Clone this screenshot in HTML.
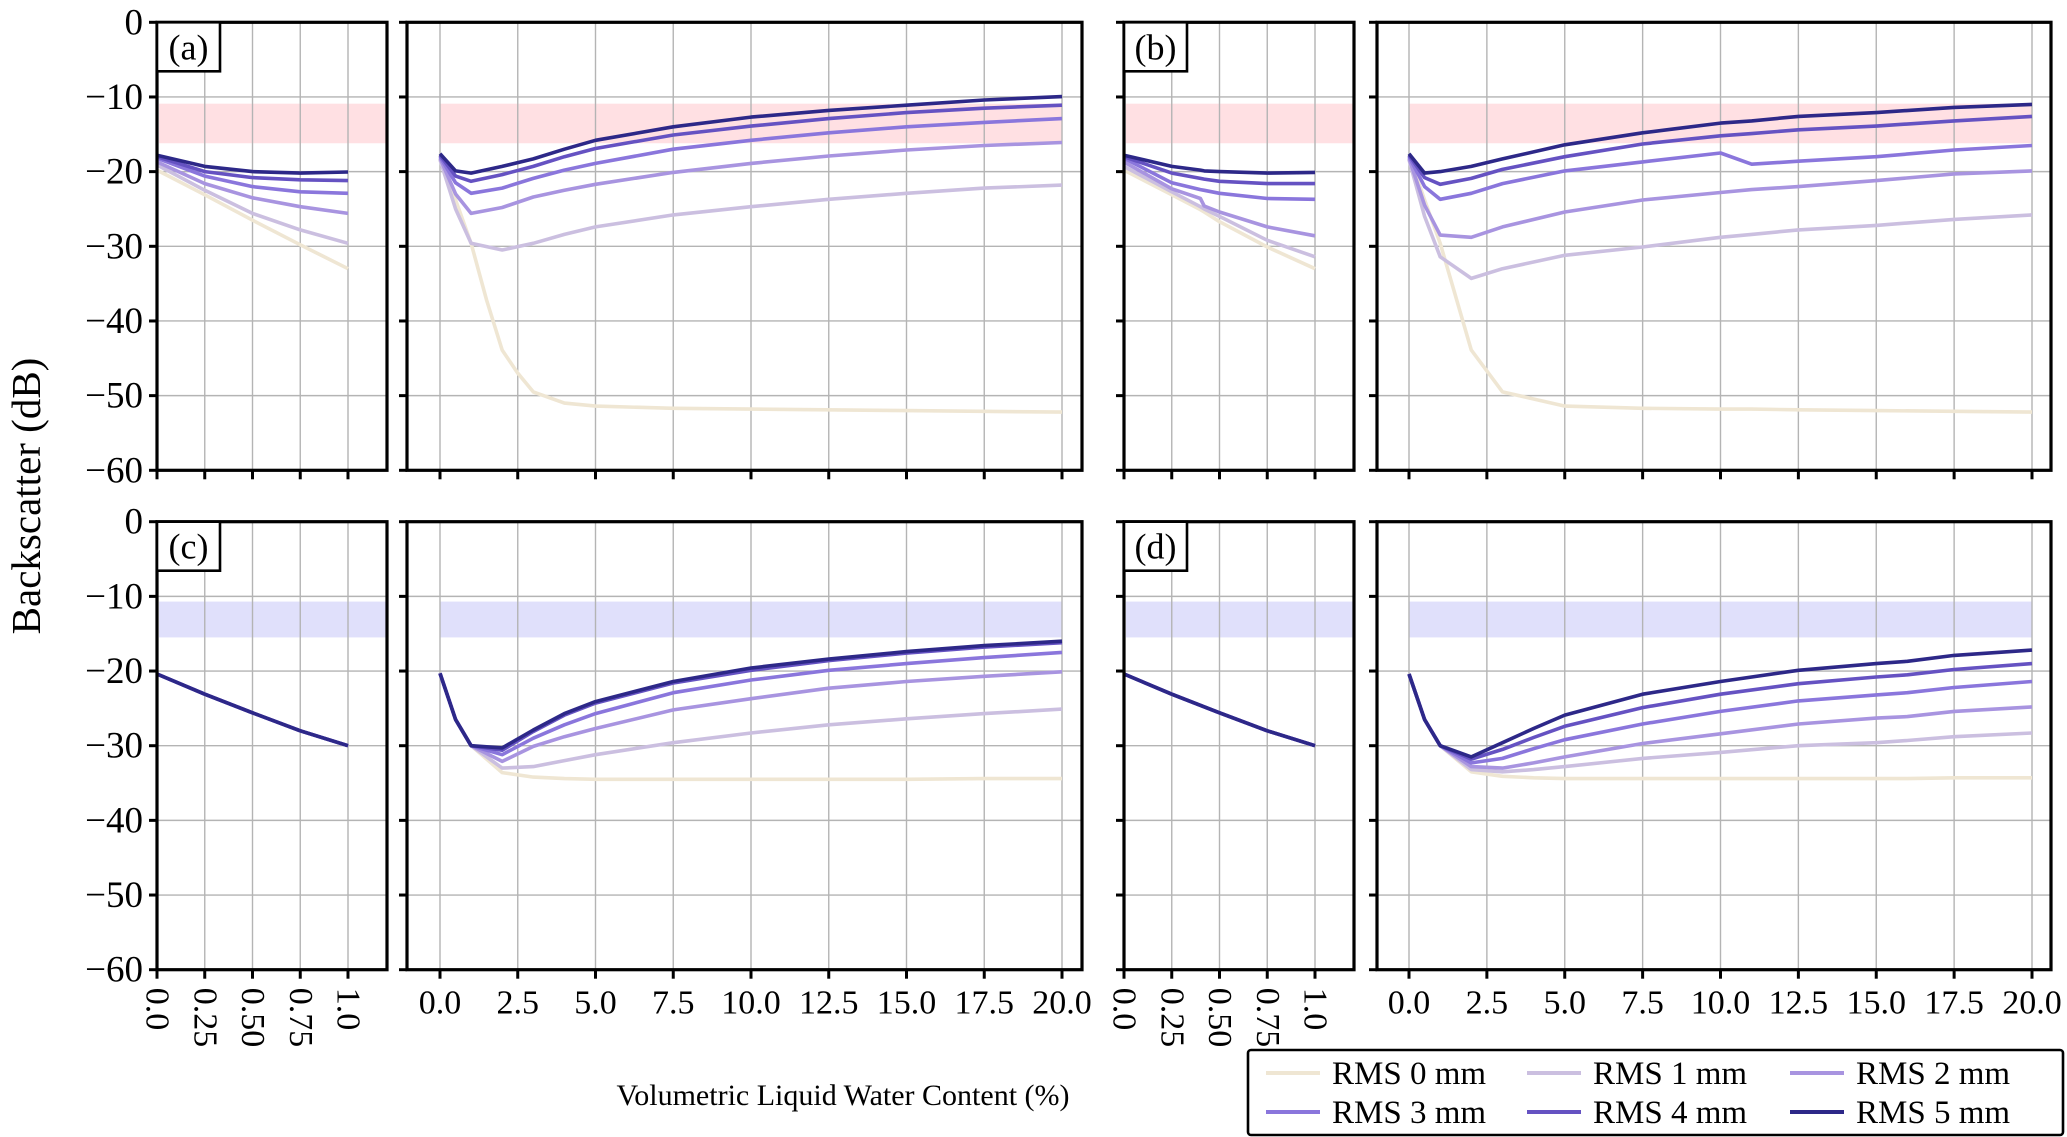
<!DOCTYPE html>
<html><head><meta charset="utf-8">
<style>
html,body{margin:0;padding:0;background:#fff;}
svg{display:block;font-family:"Liberation Serif","DejaVu Serif",serif;}
</style></head>
<body>
<svg id="chart" width="2067" height="1137" viewBox="0 0 2067 1137" xmlns="http://www.w3.org/2000/svg"></svg>
<script>
// ---------- DATA ----------
const seriesNames = ["RMS 0 mm","RMS 1 mm","RMS 2 mm","RMS 3 mm","RMS 4 mm","RMS 5 mm"];
const yTicks = [0,-10,-20,-30,-40,-50,-60];
const narrowTicks = [0,0.25,0.5,0.75,1.0];
const narrowTickLabels = ["0.0","0.25","0.50","0.75","1.0"];
const wideTicks = [0,2.5,5,7.5,10,12.5,15,17.5,20];
const wideTickLabels = ["0.0","2.5","5.0","7.5","10.0","12.5","15.0","17.5","20.0"];
const panelLetters = ["(a)","(b)","(c)","(d)"];
const bandTop = [-16.2,-10.9];
const bandBottom = [-15.5,-10.7];

// panel (a) narrow
const aNX = [0,0.25,0.5,0.75,1.0];
const aN0 = [-19.8,-23.1,-26.5,-29.8,-33.0];
const aN1 = [-19.1,-22.5,-25.6,-27.8,-29.6];
const aN2 = [-18.7,-21.6,-23.5,-24.7,-25.6];
const aN3 = [-18.2,-20.6,-22.0,-22.7,-22.9];
const aN4 = [-18.0,-20.0,-20.8,-21.1,-21.2];
const aN5 = [-17.8,-19.3,-20.0,-20.2,-20.05];
// panel (a) wide
const aWX = [0,0.5,1,2,3,4,5,7.5,10,12.5,15,17.5,20];
const aW0X = [0,0.5,1,1.5,2,2.5,3,4,5,7.5,10,15,20];
const aW0 = [-17.8,-23.8,-29.6,-37.2,-43.9,-47.0,-49.5,-51.0,-51.4,-51.7,-51.8,-52.0,-52.2];
const aW1 = [-18.4,-25.0,-29.6,-30.5,-29.6,-28.4,-27.4,-25.8,-24.7,-23.7,-22.9,-22.2,-21.8];
const aW2 = [-18.2,-23.0,-25.6,-24.8,-23.4,-22.5,-21.7,-20.1,-18.9,-17.9,-17.1,-16.5,-16.1];
const aW3 = [-18.0,-21.5,-22.9,-22.2,-20.9,-19.8,-18.9,-17.0,-15.8,-14.8,-14.0,-13.4,-12.9];
const aW4 = [-17.8,-20.6,-21.3,-20.4,-19.3,-18.0,-16.9,-15.1,-13.9,-12.9,-12.1,-11.5,-11.1];
const aW5 = [-17.6,-19.9,-20.2,-19.3,-18.3,-17.0,-15.8,-14.0,-12.7,-11.8,-11.1,-10.4,-9.95];
// panel (b) narrow
const bNX = [0,0.25,0.4,0.42,0.5,0.75,1.0];
const bN0 = [-19.8,-23.1,-25.1,-25.4,-26.7,-30.1,-33.0];
const bN1 = [-19.3,-22.7,-24.7,-25.0,-26.0,-29.2,-31.4];
const bN2 = [-18.7,-22.3,-23.6,-24.6,-25.4,-27.4,-28.6];
const bN3 = [-18.2,-21.5,-22.4,-22.5,-22.9,-23.6,-23.7];
const bN4 = [-18.0,-20.2,-20.9,-21.0,-21.3,-21.6,-21.6];
const bN5 = [-17.8,-19.3,-19.8,-19.9,-20.0,-20.2,-20.1];
// panel (b) wide
const bWX = [0,0.5,1,2,3,5,7.5,10,11,12.5,15,17.5,20];
const bW0 = [-17.8,-23.8,-29.6,-43.9,-49.5,-51.4,-51.7,-51.8,-51.8,-51.9,-52.0,-52.1,-52.2];
const bW1 = [-18.4,-26.0,-31.4,-34.3,-33.0,-31.2,-30.1,-28.8,-28.4,-27.8,-27.2,-26.4,-25.8];
const bW2 = [-18.2,-24.5,-28.5,-28.8,-27.4,-25.4,-23.8,-22.8,-22.4,-22.0,-21.2,-20.3,-19.9];
const bW3 = [-18.0,-22.0,-23.7,-22.9,-21.6,-19.9,-18.7,-17.5,-19.0,-18.6,-18.0,-17.1,-16.5];
const bW4 = [-17.8,-20.8,-21.7,-20.9,-19.7,-18.0,-16.3,-15.2,-14.9,-14.4,-13.9,-13.2,-12.6];
const bW5 = [-17.6,-20.2,-20.0,-19.3,-18.3,-16.4,-14.8,-13.5,-13.2,-12.6,-12.1,-11.4,-11.0];
// panel (c) narrow (all series coincide)
const cNX = [0,0.25,0.5,0.75,1.0];
const cN = [-20.4,-23.1,-25.6,-28.0,-30.0];
// panel (c) wide
const cWX = [0,0.5,1,2,3,4,5,7.5,10,12.5,15,17.5,20];
const cW0 = [-20.3,-26.5,-30.0,-33.6,-34.2,-34.4,-34.5,-34.5,-34.5,-34.5,-34.5,-34.4,-34.4];
const cW1 = [-20.3,-26.5,-30.0,-33.0,-32.8,-32.0,-31.2,-29.6,-28.3,-27.2,-26.4,-25.7,-25.1];
const cW2 = [-20.3,-26.5,-30.0,-32.1,-30.1,-28.8,-27.7,-25.2,-23.7,-22.3,-21.4,-20.7,-20.1];
const cW3 = [-20.3,-26.5,-30.0,-31.2,-29.0,-27.2,-25.7,-22.9,-21.2,-19.9,-19.0,-18.2,-17.5];
const cW4 = [-20.3,-26.5,-30.0,-30.6,-28.1,-25.9,-24.3,-21.6,-19.9,-18.6,-17.6,-16.8,-16.2];
const cW5 = [-20.3,-26.5,-30.0,-30.3,-27.9,-25.7,-24.1,-21.4,-19.6,-18.4,-17.4,-16.6,-16.0];
// panel (d) narrow
const dNX = [0,0.25,0.5,0.75,1.0];
const dN = [-20.4,-23.1,-25.6,-28.0,-30.0];
// panel (d) wide
const dWX = [0,0.5,1,2,3,4,5,7.5,10,12.5,15,16,17.5,20];
const dW0 = [-20.4,-26.5,-30.0,-33.5,-34.1,-34.3,-34.4,-34.4,-34.4,-34.4,-34.4,-34.4,-34.3,-34.3];
const dW1 = [-20.4,-26.5,-30.0,-33.2,-33.5,-33.2,-32.8,-31.7,-30.9,-30.0,-29.6,-29.3,-28.8,-28.3];
const dW2 = [-20.4,-26.5,-30.0,-32.8,-33.0,-32.3,-31.5,-29.7,-28.4,-27.1,-26.3,-26.1,-25.4,-24.8];
const dW3 = [-20.4,-26.5,-30.0,-32.3,-31.7,-30.4,-29.2,-27.1,-25.4,-24.0,-23.2,-22.9,-22.2,-21.4];
const dW4 = [-20.4,-26.5,-30.0,-31.8,-30.5,-28.9,-27.4,-24.9,-23.1,-21.7,-20.8,-20.5,-19.8,-19.0];
const dW5 = [-20.4,-26.5,-30.0,-31.5,-29.6,-27.7,-25.9,-23.1,-21.4,-19.9,-19.0,-18.7,-17.9,-17.2];

// ---------- STYLE / LAYOUT ----------
const colors = ["#efe6d3","#cbbfe0","#a894e0","#8a76dc","#6552c2","#2d2888"];
const rows = [{top:22.3,bot:470.3},{top:521.7,bot:969.7}];
const cols = [
  {left:157,right:387,p0:157,p1:348,v1:1,kind:"n"},
  {left:407,right:1082,p0:440,p1:1062,v1:20,kind:"w"},
  {left:1124,right:1354,p0:1124,p1:1315,v1:1,kind:"n"},
  {left:1377,right:2051,p0:1409,p1:2032,v1:20,kind:"w"}
];
const NS="http://www.w3.org/2000/svg";
const svg=document.getElementById("chart");
function mk(tag,attrs,parent){const e=document.createElementNS(NS,tag);for(const k in attrs)e.setAttribute(k,attrs[k]);(parent||svg).appendChild(e);return e;}

function panelData(r,c){
  const narrowSets=[[aNX,[aN0,aN1,aN2,aN3,aN4,aN5]],[bNX,[bN0,bN1,bN2,bN3,bN4,bN5]],[cNX,[cN,cN,cN,cN,cN,cN]],[dNX,[dN,dN,dN,dN,dN,dN]]];
  const wideSets=[[aWX,[aW0,aW1,aW2,aW3,aW4,aW5]],[bWX,[bW0,bW1,bW2,bW3,bW4,bW5]],[cWX,[cW0,cW1,cW2,cW3,cW4,cW5]],[dWX,[dW0,dW1,dW2,dW3,dW4,dW5]]];
  const idx=r*2+(c>=2?1:0);
  return cols[c].kind==="n"?narrowSets[idx]:wideSets[idx];
}

for(let r=0;r<2;r++){
  const row=rows[r];
  const ys=v=>row.top+(0-v)/60*(row.bot-row.top);
  for(let c=0;c<4;c++){
    const col=cols[c];
    const xs=v=>col.p0+v/col.v1*(col.p1-col.p0);
    const g=mk("g",{});
    
    
    // band
    const band=r===0?bandTop:bandBottom;
    const bx0=col.kind==="n"?col.left+2:xs(0), bx1=col.kind==="n"?col.right-1:xs(20);
    const rect=mk("rect",{x:bx0,y:ys(band[1]),width:bx1-bx0,height:ys(band[0])-ys(band[1]),fill:r===0?"#ffe0e3":"#e0e0fb"},g);
    
    
    // grid
    const ticks=col.kind==="n"?narrowTicks:wideTicks;
    ticks.forEach(t=>{const l=mk("line",{x1:xs(t),x2:xs(t),y1:row.top,y2:row.bot,stroke:"#b4b4b4","stroke-width":1.4},g);
      
      });
    yTicks.forEach(t=>{const l=mk("line",{x1:col.left,x2:col.right,y1:ys(t),y2:ys(t),stroke:"#b4b4b4","stroke-width":1.4},g);
      
      });
    // series
    const [X,S]=panelData(r,c);
    for(let s=0;s<6;s++){
      let xarr=X;
      if(r===0&&c===1&&s===0)xarr=aW0X;
      const pts=S[s].map((v,i)=>xs(xarr[i]).toFixed(1)+","+ys(v).toFixed(1)).join(" ");
      const pl=mk("polyline",{points:pts,fill:"none",stroke:colors[s],"stroke-width":3.6,"stroke-linejoin":"round","stroke-linecap":"butt"},g);
      
      
    }
    // spines
    const fr=mk("rect",{x:col.left,y:row.top,width:col.right-col.left,height:row.bot-row.top,fill:"none",stroke:"#000","stroke-width":3.2},g);
    
    
    // y ticks
    yTicks.forEach(t=>{const l=mk("line",{x1:col.left-8,x2:col.left,y1:ys(t),y2:ys(t),stroke:"#000","stroke-width":3},g);
      
      
      if(c===0){const tx=mk("text",{x:col.left-14,y:ys(t)+12,"text-anchor":"end","font-size":37,fill:"#000"},g);
        tx.textContent=t===0?"0":"\u2212"+Math.abs(t);
        
        }
    });
    // x ticks
    ticks.forEach((t,i)=>{const l=mk("line",{x1:xs(t),x2:xs(t),y1:row.bot,y2:row.bot+9,stroke:"#000","stroke-width":3},g);
      
      
      if(r===1){
        let tx;
        if(col.kind==="n"){
          tx=mk("text",{x:0,y:0,"text-anchor":"start","font-size":34,fill:"#000","dominant-baseline":"central",transform:"translate("+xs(t)+","+(row.bot+18)+") rotate(90)"},g);
          tx.textContent=narrowTickLabels[i];
        } else {
          tx=mk("text",{x:xs(t),y:row.bot+44,"text-anchor":"middle","font-size":34,fill:"#000"},g);
          tx.textContent=wideTickLabels[i];
        }
        
        
      }
    });
    // panel letter
    if(col.kind==="n"){
      const bx=mk("rect",{x:col.left,y:row.top,width:63,height:49,fill:"#fff",stroke:"#000","stroke-width":2.6},g);
      
      
      const lt=mk("text",{x:col.left+31.5,y:row.top+37,"text-anchor":"middle","font-size":36,fill:"#000"},g);
      lt.textContent=panelLetters[r*2+(c>=2?1:0)];
      
      
    }
  }
}
// y label
const yl=mk("text",{x:0,y:0,"text-anchor":"middle","font-size":41,fill:"#000",transform:"translate(40,496) rotate(-90)"});
yl.textContent="Backscatter (dB)";


// x label
const xl=mk("text",{x:843,y:1105,"text-anchor":"middle","font-size":30,fill:"#000"});
xl.textContent="Volumetric Liquid Water Content (%)";


// legend
const lg=mk("g",{});


const lb=mk("rect",{x:1248,y:1050,width:815,height:85,rx:3,fill:"#fff",stroke:"#000","stroke-width":2.6},lg);


const legCols=[1266,1527,1790];
const legRows=[1073,1112];
for(let s=0;s<6;s++){
  const cx=legCols[s%3], cy=legRows[Math.floor(s/3)];
  const e=mk("g",{},lg);
  
  
  const hl=mk("line",{x1:cx,x2:cx+54,y1:cy,y2:cy,stroke:colors[s],"stroke-width":4},e);
  
  
  const t=mk("text",{x:cx+66,y:cy+11,"font-size":33,fill:"#000"},e);
  t.textContent=seriesNames[s];
  
  
}
</script>
</body></html>
